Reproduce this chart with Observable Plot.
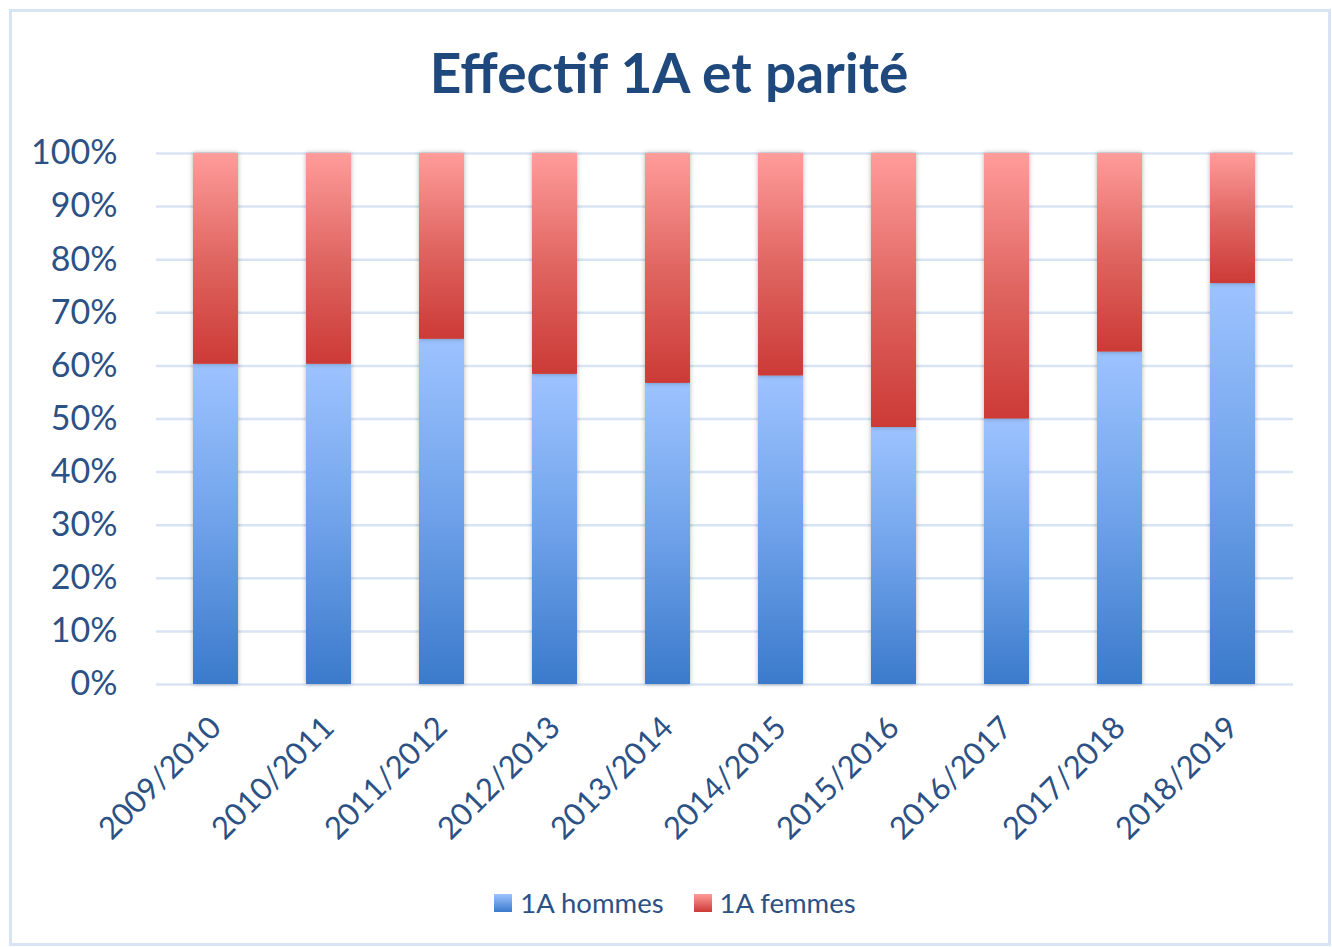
<!DOCTYPE html>
<html>
<head>
<meta charset="utf-8">
<script src="https://cdn.jsdelivr.net/npm/d3@7"></script>
<script src="https://cdn.jsdelivr.net/npm/@observablehq/plot@0.6"></script>
<style>
  html, body { margin: 0; padding: 0; background: #fff; }
  body { width: 1332px; height: 947px; position: relative; overflow: hidden; font-family: Lato, "Noto Sans", sans-serif; color: #1f497d; }
  #frame { position: absolute; left: 9px; top: 9px; width: 1316px; height: 931px; border: 3px solid #d6e4f4; }
  #title { position: absolute; left: 0; width: 1338px; top: 40px; text-align: center; font-size: 55px; font-weight: 700; line-height: 64px; color: #1f497d; }
  #chart { position: absolute; left: 0; top: 120px; }
  #legend { position: absolute; top: 886px; left: 0; width: 1350px; display: flex; justify-content: center; gap: 30px; font-size: 27.5px; line-height: 34px; color: #2b5185; }
  .item { display: flex; align-items: center; gap: 8px; }
  .sw { width: 18px; height: 18px; }
</style>
</head>
<body>
<div id="frame"></div>
<div id="title">Effectif 1A et parité</div>
<div id="chart"></div>
<div id="legend"></div>
<script>
const years = ["2009/2010","2010/2011","2011/2012","2012/2013","2013/2014","2014/2015","2015/2016","2016/2017","2017/2018","2018/2019"];
const hommes = [60.3, 60.3, 65.0, 58.4, 56.7, 58.1, 48.4, 50.0, 62.6, 75.5];
const femmes = [39.7, 39.7, 35.0, 41.6, 43.3, 41.9, 51.6, 50.0, 37.4, 24.5];
const seriesNames = ["1A hommes", "1A femmes"];
const yTicks = [0,10,20,30,40,50,60,70,80,90,100];

const data = [];
years.forEach((y, i) => {
  data.push({year: y, sex: seriesNames[0], value: hommes[i]});
  data.push({year: y, sex: seriesNames[1], value: femmes[i]});
});

const svg = Plot.plot({
  width: 1332,
  height: 740,
  marginTop: 33,
  marginBottom: 176,
  marginLeft: 156,
  marginRight: 39,
  style: {fontFamily: "Lato, 'Noto Sans', sans-serif", fontSize: "34px", color: "#2b5185", background: "transparent", overflow: "visible"},
  x: {domain: years, paddingInner: 0.6, paddingOuter: 0.3, label: null},
  y: {domain: [0, 100], label: null},
  color: {type: "ordinal", domain: seriesNames, range: ["url(#gH)", "url(#gF)"]},
  marks: [
    Plot.ruleY(yTicks, {stroke: "#d8e4f3", strokeWidth: 2.5}),
    Plot.axisY({ticks: yTicks, tickFormat: d => d + "%", label: null, tickSize: 0, tickPadding: 39, fontSize: 34}),
    Plot.axisX({label: null, tickSize: 0, tickRotate: -45, tickPadding: 38, fontSize: 31}),
    Plot.barY(data, {x: "year", y: "value", fill: "sex"})
  ]
});

const defs = `
<defs>
  <linearGradient id="gH" x1="0" y1="1" x2="0" y2="0">
    <stop offset="0" stop-color="#3b7acb"/>
    <stop offset="0.5" stop-color="#6fa2ea"/>
    <stop offset="1" stop-color="#9dc3ff"/>
  </linearGradient>
  <linearGradient id="gF" x1="0" y1="1" x2="0" y2="0">
    <stop offset="0" stop-color="#cc3a36"/>
    <stop offset="0.5" stop-color="#e06662"/>
    <stop offset="1" stop-color="#ff9c9a"/>
  </linearGradient>
</defs>`;
svg.insertAdjacentHTML("afterbegin", defs);
d3.select(svg).selectAll("g[aria-label='bar'] rect").style("filter", "drop-shadow(0px 0px 2.5px rgba(0,0,0,0.3))");
document.getElementById("chart").appendChild(svg);

const legend = document.getElementById("legend");
const grads = ["linear-gradient(to top, #3b7acb, #9dc3ff)", "linear-gradient(to top, #cc3a36, #ff9c9a)"];
seriesNames.forEach((n, i) => {
  const it = document.createElement("div");
  it.className = "item";
  it.innerHTML = `<div class="sw" style="background:${grads[i]}"></div><span>${n}</span>`;
  legend.appendChild(it);
});
</script>
</body>
</html>
